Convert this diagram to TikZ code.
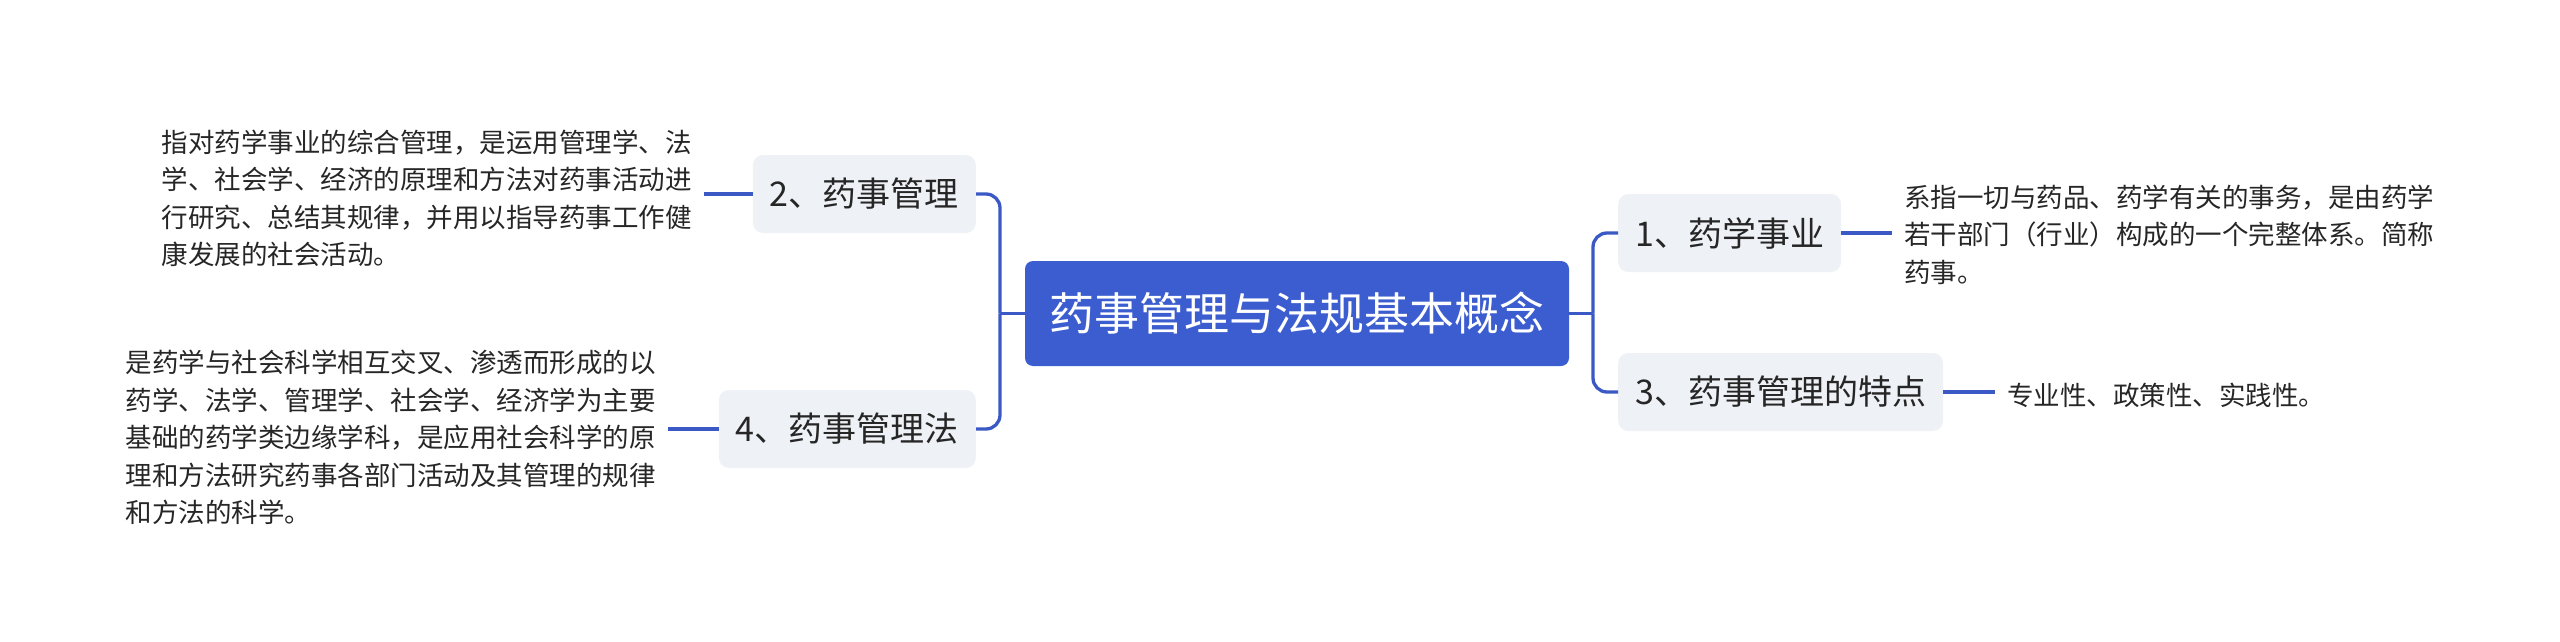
\documentclass[tikz,border=0pt]{standalone}
\usepackage{fontspec}
\setmainfont{Noto Sans CJK SC}
\definecolor{rootblue}{HTML}{3B5DCF}
\definecolor{linkblue}{HTML}{3A59C4}
\definecolor{topicgray}{HTML}{EEF1F5}
\definecolor{textdark}{HTML}{262626}
\begin{document}
\begin{tikzpicture}[x=1pt,y=-1pt,
  rootbox/.style={fill=rootblue, rounded corners=8pt, text=white, font=\fontsize{45}{54}\selectfont, minimum width=544pt, minimum height=105pt, inner sep=0pt},
  topic/.style={fill=topicgray, rounded corners=10pt, text=textdark, font=\fontsize{34}{40}\selectfont, minimum height=78pt, inner xsep=17pt, inner ysep=0pt},
  leaf/.style={text=textdark, font=\fontsize{26.5}{37.5}\selectfont, align=left, inner xsep=12pt, inner ysep=0pt},
  link/.style={draw=linkblue, line width=3.3pt, rounded corners=14pt}]
\useasboundingbox (0,0) rectangle (2560,642);
\node[rootbox] (root) at (1297,313.5) {药事管理与法规基本概念};
\node[topic, anchor=east] (t2) at (976,194) {2、药事管理};
\node[topic, anchor=east] (t4) at (976,429) {4、药事管理法};
\node[topic, anchor=west] (t1) at (1618,233) {1、药学事业};
\node[topic, anchor=west] (t3) at (1618,392) {3、药事管理的特点};
\node[leaf, anchor=east] (l2) at (704,198.5) {指对药学事业的综合管理，是运用管理学、法\\学、社会学、经济的原理和方法对药事活动进\\行研究、总结其规律，并用以指导药事工作健\\康发展的社会活动。};
\node[leaf, anchor=east] (l4) at (668,437.5) {是药学与社会科学相互交叉、渗透而形成的以\\药学、法学、管理学、社会学、经济学为主要\\基础的药学类边缘学科，是应用社会科学的原\\理和方法研究药事各部门活动及其管理的规律\\和方法的科学。};
\node[leaf, anchor=west] (l1) at (1892,234.5) {系指一切与药品、药学有关的事务，是由药学\\若干部门（行业）构成的一个完整体系。简称\\药事。};
\node[leaf, anchor=west] (l3) at (1995,395) {专业性、政策性、实践性。};
\coordinate (jl) at (1000,313.5);
\coordinate (jr) at (1593,313.5);
\draw[link] (root.west) -- (jl);
\draw[link] (jl) |- (t2.east);
\draw[link] (jl) |- (t4.east);
\draw[link] (root.east) -- (jr);
\draw[link] (jr) |- (t1.west);
\draw[link] (jr) |- (t3.west);
\draw[link] (t2.west) -- (t2.west -| l2.east);
\draw[link] (t4.west) -- (t4.west -| l4.east);
\draw[link] (t1.east) -- (t1.east -| l1.west);
\draw[link] (t3.east) -- (t3.east -| l3.west);
\end{tikzpicture}
\end{document}
